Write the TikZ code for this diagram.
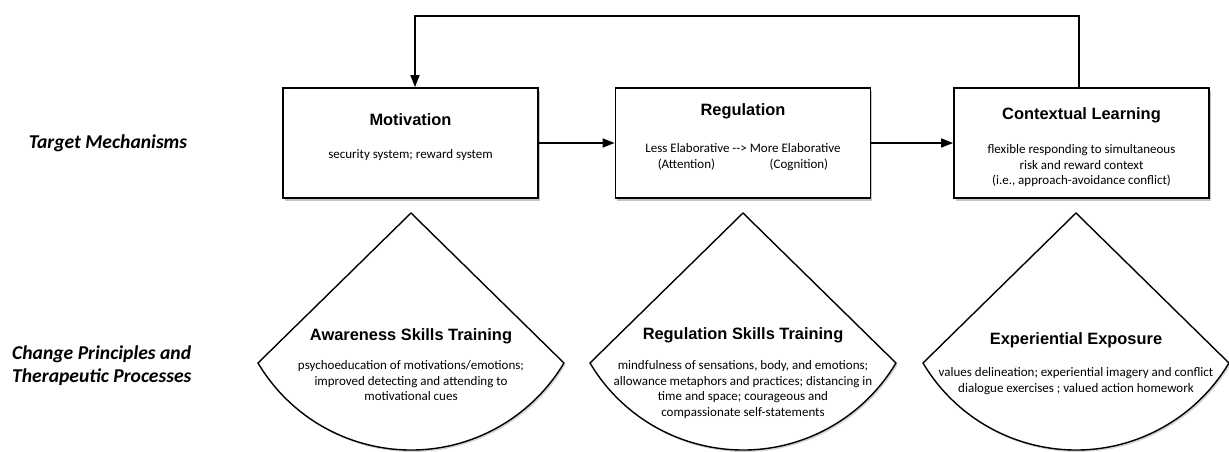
\documentclass[tikz,border=0pt]{standalone}
\usepackage{fontspec}
\setmainfont{Carlito}
\newfontfamily\headfont{Liberation Sans}
\usetikzlibrary{arrows.meta,shadows}

\begin{document}
\begin{tikzpicture}
[x=1pt,y=1pt,%
  box/.style={draw,line width=1.8pt,fill=white,minimum width=255pt,minimum height=110pt,inner sep=0pt,%
    drop shadow={shadow xshift=1.5pt,shadow yshift=-2.5pt,opacity=0.45}},%
  wedge/.style={draw,line width=1.4pt,fill=white,%
    drop shadow={shadow xshift=1.5pt,shadow yshift=-2pt,opacity=0.35}},%
  head/.style={font=\headfont\bfseries\fontsize{16.4}{19}\selectfont,inner sep=0pt,anchor=base},%
  body/.style={font=\fontsize{13}{15.5}\selectfont,align=center,inner sep=0pt,anchor=north},%
  side/.style={font=\bfseries\itshape\fontsize{19.6}{23}\selectfont,align=left,inner sep=0pt},%
  arr/.style={-{Triangle[length=12pt,width=9pt]},line width=1.5pt}]
\useasboundingbox (0,0) rectangle (1229,-451);

\node[side] (tm) at (108,-143) {Target Mechanisms};
\node[side,anchor=west] (cp) at (12,-365.5) {Change Principles and\\Therapeutic Processes};

\node[box] (motiv) at (410.5,-143) {};
\node[box] (reg) at (743,-143) {};
\node[box] (ctx) at (1081.5,-143) {};

\node[head] (motivT) at (410.5,-125) {Motivation};
\node[body] (motivB) at (410.5,-149) {security system; reward system};
\node[head] (regT) at (743,-115) {Regulation};
\node[body] (regB) at (743,-143.5) {Less Elaborative -{}-> More Elaborative\\
  (Attention)\hspace{4.2em}(Cognition)};
\node[head] (ctxT) at (1081.5,-119) {Contextual Learning};
\node[body] (ctxB) at (1081.5,-144.5) {flexible responding to simultaneous\\
  risk and reward context\\(i.e., approach-avoidance conflict)};

\draw[arr] (motiv) -- (reg);
\draw[arr] (reg) -- (ctx);
\coordinate (loop) at (745,-16);
\draw[arr] ([xshift=-2.5pt]ctx.north) |- (loop) -| ([xshift=4.5pt]motiv.north);

\foreach \cx in {411,743,1076}
  \draw[wedge] (\cx,-213) -- ++(-153,-150)
    arc[start angle=210.75,end angle=329.25,radius=178] -- cycle;

\node[head] (awT) at (411,-340) {Awareness Skills Training};
\node[body] (awB) at (411,-360.5) {psychoeducation of motivations/emotions;\\
  improved detecting and attending to\\motivational cues};
\node[head] (rsT) at (743,-339) {Regulation Skills Training};
\node[body] (rsB) at (743,-360.5) {mindfulness of sensations, body, and emotions;\\
  allowance metaphors and practices; distancing in\\
  time and space; courageous and\\compassionate self-statements};
\node[head] (exT) at (1076,-344) {Experiential Exposure};
\node[body] (exB) at (1076,-367.5) {values delineation; experiential imagery and conflict\\
  dialogue exercises ; valued action homework};
\end{tikzpicture}
\end{document}
